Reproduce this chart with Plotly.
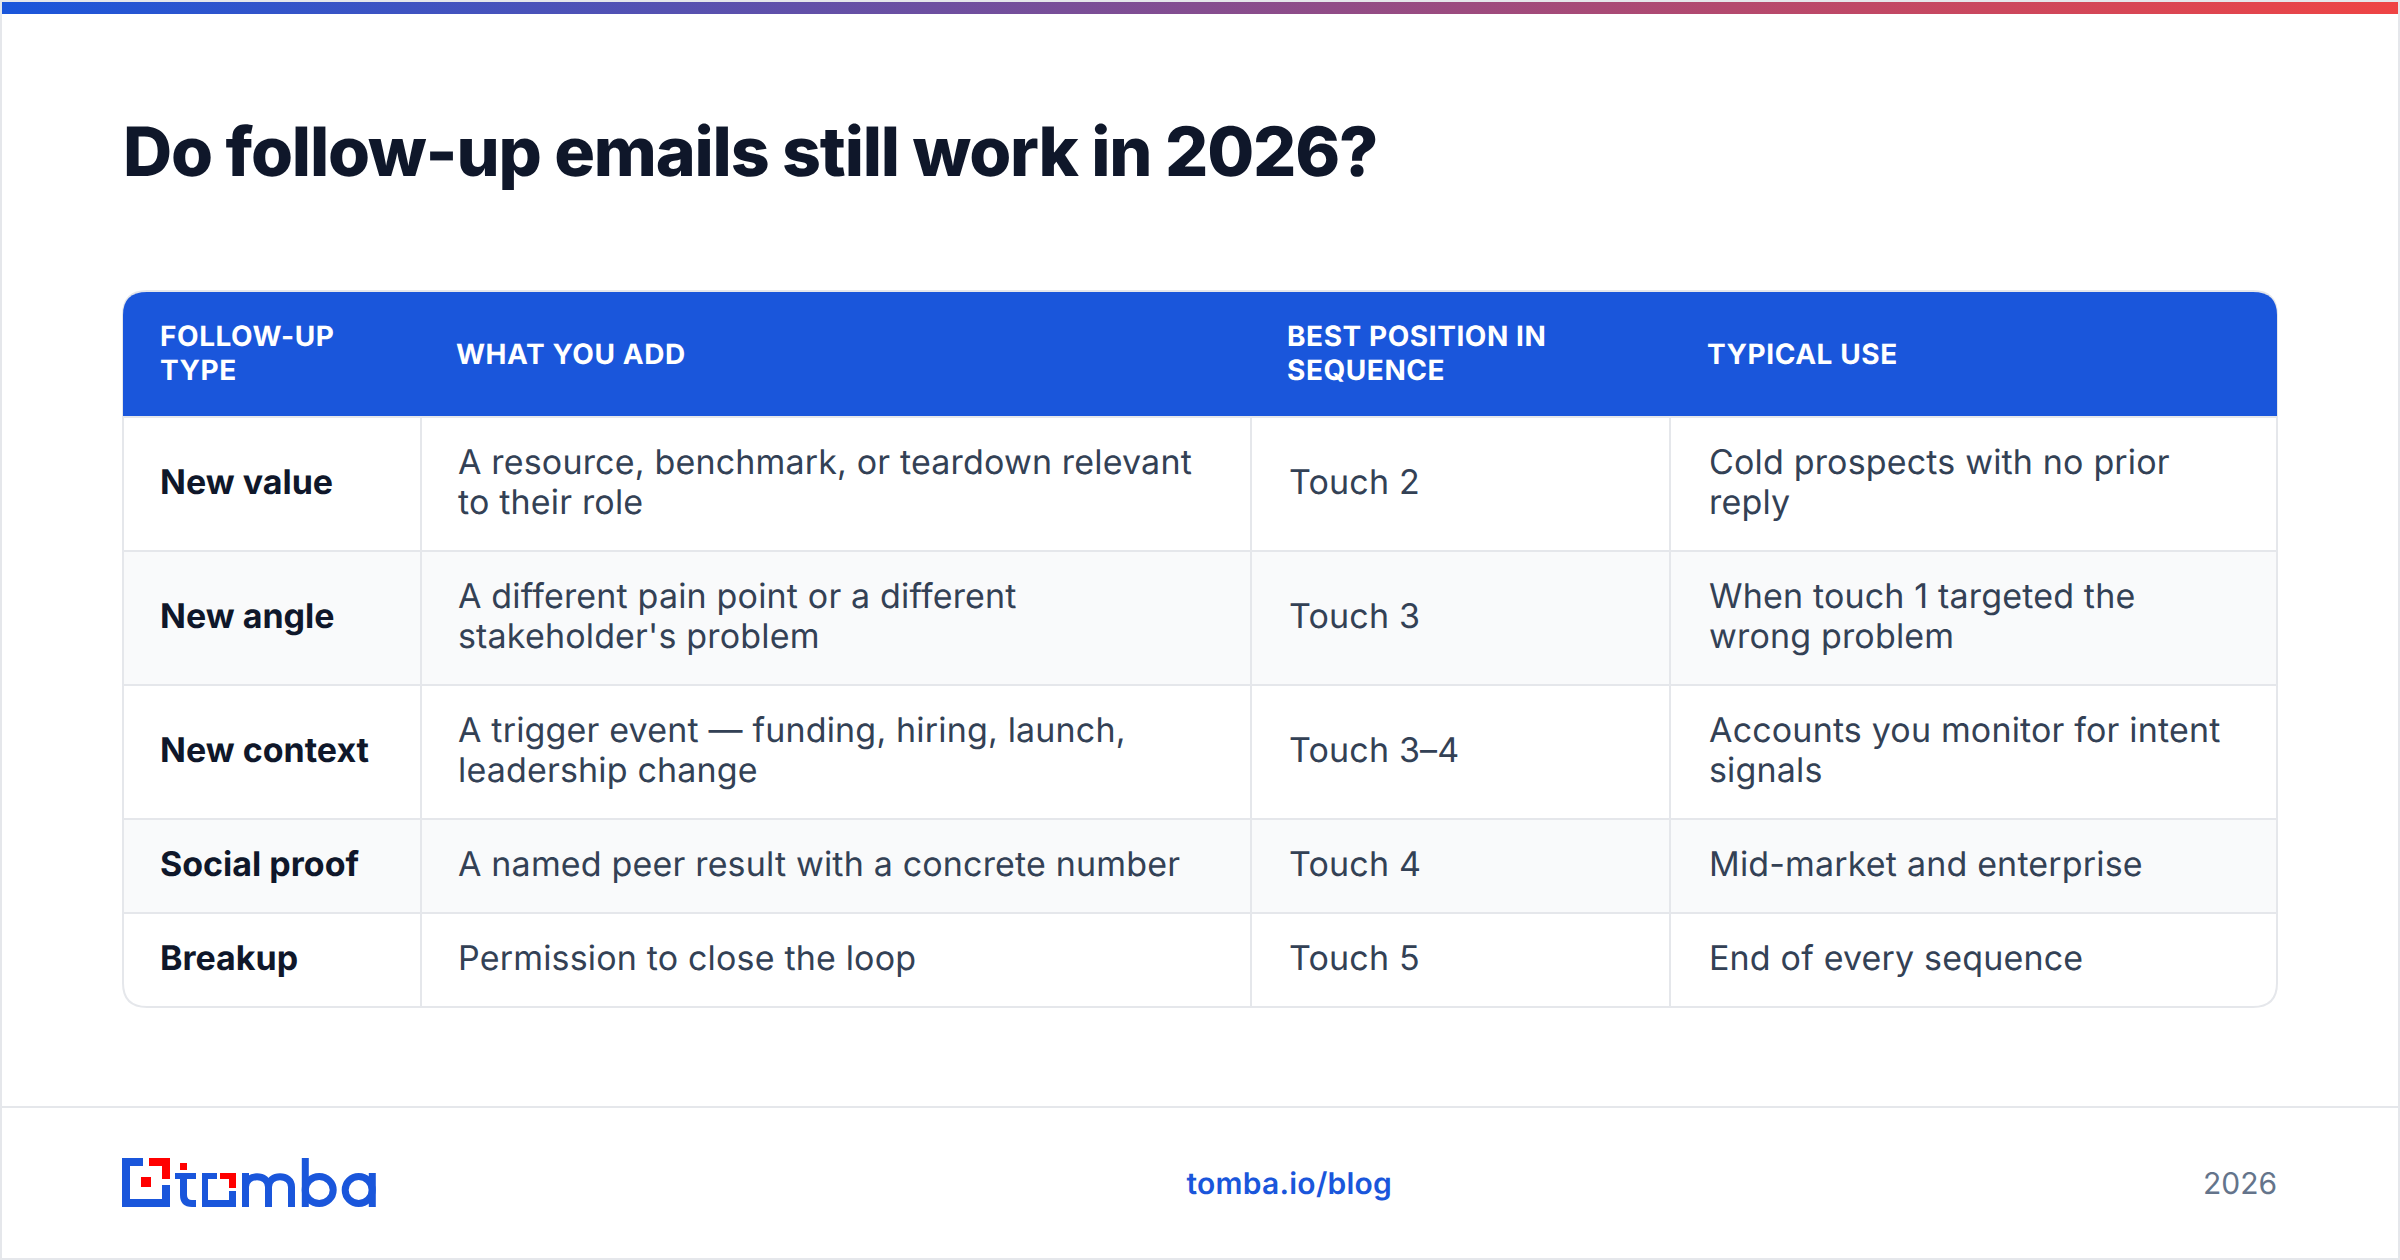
"""Follow-up email table card, drawn on a pixel-sized hidden axis."""

import plotly.graph_objects as go

BLUE = "#1a56db"
RED = "#ef4444"
LOGO_RED = "#ff0000"
LINE = "#e5e7eb"
STRIPE = "#f9fafb"
INK = "#0f172a"
BODY = "#334155"
MUTED = "#64748b"
FONT = "Inter"

TITLE = "Do follow-up emails still work in 2026?"
HEADERS = ["FOLLOW-UP<br>TYPE", "WHAT YOU ADD", "BEST POSITION IN<br>SEQUENCE", "TYPICAL USE"]
FOLLOW_UP_TYPE = ["New value", "New angle", "New context", "Social proof", "Breakup"]
WHAT_YOU_ADD = [
    "A resource, benchmark, or teardown relevant<br>to their role",
    "A different pain point or a different<br>stakeholder's problem",
    "A trigger event — funding, hiring, launch,<br>leadership change",
    "A named peer result with a concrete number",
    "Permission to close the loop",
]
BEST_POSITION = ["Touch 2", "Touch 3", "Touch 3–4", "Touch 4", "Touch 5"]
TYPICAL_USE = [
    "Cold prospects with no prior<br>reply",
    "When touch 1 targeted the<br>wrong problem",
    "Accounts you monitor for intent<br>signals",
    "Mid-market and enterprise",
    "End of every sequence",
]
FOOT_LINK = "tomba.io/blog"
FOOT_YEAR = "2026"

# layout in page pixels
W, H = 2400, 1260
TABLE_L, TABLE_R = 123, 2277
TABLE_T, TABLE_B = 291, 1007
HEAD_B = 416
ROW_EDGES = [417, 551, 685, 819, 913, 1007]
COL_LINES = [421, 1251, 1670]
HEAD_X = [159, 455, 1285.5, 1706]
CELL_X = [159, 457, 1288, 1707.5]
R = 24

fig = go.Figure()

# gradient strip along the top
fig.add_trace(go.Scatter(
    x=[2, W - 2, W - 2, 2], y=[2, 2, 14, 14], mode="none", fill="toself",
    fillgradient=dict(type="horizontal", colorscale=[[0, BLUE], [1, RED]]),
    hoverinfo="skip", showlegend=False,
))

shapes = []


def box(x0, y0, x1, y1, fill, layer="below"):
    shapes.append(dict(type="rect", x0=x0, y0=y0, x1=x1, y1=y1, fillcolor=fill,
                       line=dict(width=0), layer=layer))


def hline(x0, x1, y, color=LINE, width=2):
    shapes.append(dict(type="line", x0=x0, x1=x1, y0=y, y1=y,
                       line=dict(color=color, width=width), layer="below"))


def vline(x, y0, y1, color=LINE, width=2):
    shapes.append(dict(type="line", x0=x, x1=x, y0=y0, y1=y1,
                       line=dict(color=color, width=width), layer="below"))


# card frame
hline(0, W, 1, LINE, 2)
hline(0, W, H - 1, LINE, 2)
vline(1, 0, H, LINE, 2)
vline(W - 1, 0, H, LINE, 2)
hline(0, W, 1107, LINE, 2)

# striped rows, dividers
for i, (top, bot) in enumerate(zip(ROW_EDGES[:-1], ROW_EDGES[1:])):
    if i % 2 == 1:
        box(TABLE_L, top, TABLE_R, bot, STRIPE)
for y in ROW_EDGES[:-1]:
    hline(TABLE_L, TABLE_R, y)
for x in COL_LINES:
    vline(x, HEAD_B, TABLE_B)

# rounded outline and header
shapes.append(dict(
    type="path",
    path=f"M {TABLE_L} {TABLE_T + R} Q {TABLE_L} {TABLE_T} {TABLE_L + R} {TABLE_T} "
         f"L {TABLE_R - R} {TABLE_T} Q {TABLE_R} {TABLE_T} {TABLE_R} {TABLE_T + R} "
         f"L {TABLE_R} {TABLE_B - R} Q {TABLE_R} {TABLE_B} {TABLE_R - R} {TABLE_B} "
         f"L {TABLE_L + R} {TABLE_B} Q {TABLE_L} {TABLE_B} {TABLE_L} {TABLE_B - R} Z",
    line=dict(color=LINE, width=2), layer="below",
))
shapes.append(dict(
    type="path",
    path=f"M {TABLE_L} {HEAD_B} L {TABLE_L} {TABLE_T + R} "
         f"Q {TABLE_L} {TABLE_T + 1} {TABLE_L + R} {TABLE_T + 1} "
         f"L {TABLE_R - R} {TABLE_T + 1} Q {TABLE_R} {TABLE_T + 1} {TABLE_R} {TABLE_T + R} "
         f"L {TABLE_R} {HEAD_B} Z",
    fillcolor=BLUE, line=dict(width=0), layer="below",
))

# logo: square mark
for x0, y0, x1, y1, c in [
    (122, 1158, 130, 1207, BLUE), (122, 1158, 143, 1166, BLUE),
    (122, 1199, 170, 1207, BLUE), (162, 1185, 170, 1207, BLUE),
    (149, 1158, 170, 1166, LOGO_RED), (162, 1158, 170, 1179, LOGO_RED),
    (141, 1177, 151, 1187, LOGO_RED),
    (180, 1163, 187, 1170, LOGO_RED),
    (175, 1173, 196, 1179, BLUE),
    (202, 1173, 208, 1207, BLUE), (202, 1173, 217, 1179, BLUE),
    (202, 1200, 236, 1207, BLUE), (229, 1191, 236, 1207, BLUE),
    (220, 1173, 236, 1179, LOGO_RED), (229, 1173, 236, 1188, LOGO_RED),
]:
    box(x0, y0, x1, y1, c)
logo_line = dict(color=BLUE, width=7)
shapes += [
    dict(type="path", path="M 183.5 1173 L 183.5 1195 Q 183.5 1203.5 192 1203.5 L 196 1203.5",
         line=logo_line, layer="below"),
    dict(type="path", path="M 245.5 1207 L 245.5 1187 C 245.5 1173.3 268.5 1173.3 268.5 1187 L 268.5 1207",
         line=logo_line, layer="below"),
    dict(type="path", path="M 268.5 1187 C 268.5 1173.3 291.5 1173.3 291.5 1187 L 291.5 1207",
         line=logo_line, layer="below"),
    dict(type="path", path="M 245.5 1173 L 245.5 1190", line=logo_line, layer="below"),
    dict(type="circle", x0=305.2, y0=1176.5, x1=333.2, y1=1203.5, line=logo_line, layer="below"),
    dict(type="line", x0=305.3, x1=305.3, y0=1158, y1=1207, line=logo_line, layer="below"),
    dict(type="circle", x0=345.2, y0=1176.5, x1=372.2, y1=1203.5, line=logo_line, layer="below"),
    dict(type="line", x0=372.3, x1=372.3, y0=1173, y1=1207, line=logo_line, layer="below"),
]

annotations = []


def label(x, y, text, size, color, weight=400, xanchor="left"):
    annotations.append(dict(
        x=x, y=y, xref="x", yref="y", text=text, showarrow=False, xanchor=xanchor,
        yanchor="middle", align=xanchor, borderpad=0,
        font=dict(family=FONT, size=size, color=color, weight=weight),
    ))


def wrapped(x, yc, text, size, color, weight, leading):
    lines = text.split("<br>")
    for k, line in enumerate(lines):
        label(x, yc + (k - (len(lines) - 1) / 2) * leading, line, size, color, weight)


label(122, 151, TITLE, 68, INK, 800)

for x, head in zip(HEAD_X, HEADERS):
    wrapped(x, 353 if "<br>" in head else 354, head, 28, "#ffffff", 700, 34)

rows = list(zip(ROW_EDGES[:-1], ROW_EDGES[1:]))
for (top, bot), kind, add, pos, use in zip(rows, FOLLOW_UP_TYPE, WHAT_YOU_ADD, BEST_POSITION, TYPICAL_USE):
    yc = (top + bot) / 2 - 2.5
    wrapped(CELL_X[0], yc, kind, 34, INK, 700, 40)
    wrapped(CELL_X[1], yc, add, 34, BODY, 400, 40)
    wrapped(CELL_X[2], yc, pos, 34, BODY, 400, 40)
    wrapped(CELL_X[3], yc, use, 34, BODY, 400, 40)

label(1288.5, 1183, FOOT_LINK, 30, BLUE, 600, "center")
label(2278, 1183, FOOT_YEAR, 30, MUTED, 400, "right")

fig.update_layout(
    width=W, height=H, margin=dict(l=0, r=0, t=0, b=0),
    paper_bgcolor="#ffffff", plot_bgcolor="#ffffff", showlegend=False,
    xaxis=dict(range=[0, W], visible=False, fixedrange=True),
    yaxis=dict(range=[H, 0], visible=False, fixedrange=True),
    shapes=shapes, annotations=annotations,
)

# plotly has no tracking setting, so it goes on the rendered text
POST = """
document.body.style.margin = '0';
document.documentElement.style.overflow = 'hidden';
document.querySelectorAll('text.annotation-text').forEach(function (t) {
  var size = parseFloat(t.style.fontSize);
  var bold = parseInt(t.style.fontWeight) >= 600;
  t.style.textRendering = 'geometricPrecision';
  if (size >= 60) t.style.letterSpacing = '-1.2px';
  else if (size === 28) t.style.letterSpacing = '0.56px';
  else if (size === 34 && !bold) t.style.letterSpacing = '0.17px';
  else if (size === 30 && bold) t.style.letterSpacing = '0.25px';
});
"""
fig.write_html("out.html", config=dict(displayModeBar=False), post_script=POST)
